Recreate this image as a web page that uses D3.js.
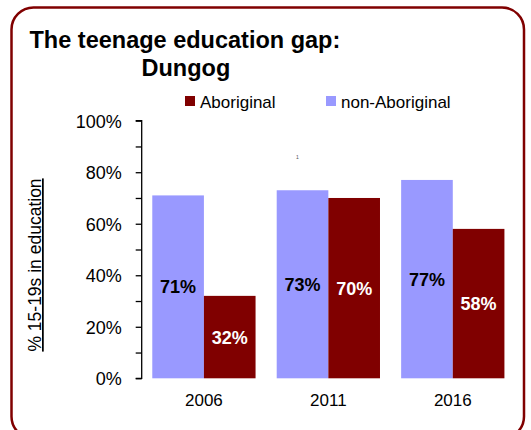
<!DOCTYPE html>
<html><head><meta charset="utf-8">
<script src="https://cdn.jsdelivr.net/npm/d3@7"></script>
<style>body{margin:0;background:#fff}svg{display:block}text{font-family:"Liberation Sans",Arial,sans-serif}</style>
</head><body>
<script>
const years = ["2006","2011","2016"];
const seriesNames = ["non-Aboriginal","Aboriginal"];
const nonAboriginal = [71,73,77];
const aboriginal = [32,70,58];
const yTickValues = [0,20,40,60,80,100];

const W=531,H=430;
const svg=d3.select("body").append("svg").attr("width",W).attr("height",H);
svg.append("rect").attr("x",11.5).attr("y",7.5).attr("width",512.5).attr("height",431)
  .attr("rx",22).attr("ry",22).attr("fill","#fff").attr("stroke","#800000").attr("stroke-width",2.5);

const colors={"non-Aboriginal":"#9999FF","Aboriginal":"#800000"};
const x=d3.scaleBand().domain(years).range([141.7,515]).paddingInner(0.17).paddingOuter(0.085);
const xs=d3.scaleBand().domain(seriesNames).range([0,x.bandwidth()]);
const y=d3.scaleLinear().domain([0,100]).range([378.3,120.7]);

const data=years.map((yr,i)=>({year:yr,vals:[{s:"non-Aboriginal",v:nonAboriginal[i]},{s:"Aboriginal",v:aboriginal[i]}]}));

const g=svg.append("g");
const grp=g.selectAll("g.grp").data(data).join("g").attr("transform",d=>`translate(${x(d.year)},0)`);
grp.selectAll("rect").data(d=>d.vals).join("rect")
  .attr("x",d=>xs(d.s)).attr("width",xs.bandwidth())
  .attr("y",d=>y(d.v)).attr("height",d=>y(0)-y(d.v))
  .attr("fill",d=>colors[d.s]);
grp.selectAll("text").data(d=>d.vals).join("text")
  .attr("x",d=>xs(d.s)+xs.bandwidth()/2)
  .attr("y",d=>y(d.v/2)+6.5)
  .attr("text-anchor","middle").attr("font-weight","bold").attr("font-size",18)
  .attr("fill",d=>d.s==="Aboriginal"?"#fff":"#000")
  .text(d=>d.v+"%");

// y axis
const yAxis=d3.axisLeft(y).tickValues(d3.range(0,101,10)).tickSize(6).tickFormat(d=>yTickValues.includes(d)?d+"%":"").tickPadding(14);
const ya=svg.append("g").attr("transform","translate(141.7,0)").call(yAxis);
ya.select(".domain").attr("d","M-6,120.7H0V378.3H-6").attr("stroke","#000").attr("stroke-width",1.3);
ya.selectAll(".tick line").attr("stroke","#000").attr("stroke-width",1.3);
ya.selectAll(".tick text").attr("font-size",18).attr("fill","#000").attr("font-family","Liberation Sans, Arial, sans-serif").attr("dy","0.36em");

// x axis labels
const xAxis=d3.axisBottom(x).tickSize(0).tickPadding(16);
const xa=svg.append("g").attr("transform","translate(0,378.3)").call(xAxis);
xa.select(".domain").remove();
xa.selectAll(".tick text").attr("font-size",17).attr("fill","#000").attr("font-family","Liberation Sans, Arial, sans-serif");

// y title
svg.append("text").attr("transform","translate(41,265) rotate(-90)")
  .attr("text-anchor","middle").attr("font-size",17.5).attr("fill","#000")
  .attr("text-decoration","underline").text("% 15-19s in education");

// title
svg.append("text").attr("x",29.5).attr("y",48).attr("font-size",23.5).attr("font-weight","bold").attr("fill","#000").text("The teenage education gap:");
svg.append("text").attr("x",141.5).attr("y",76).attr("font-size",23.5).attr("font-weight","bold").attr("fill","#000").text("Dungog");

// legend
const legendItems=[{s:"Aboriginal",x:185},{s:"non-Aboriginal",x:326}];
const lg=svg.selectAll("g.lg").data(legendItems).join("g").attr("transform",d=>`translate(${d.x},96)`);
lg.append("rect").attr("width",10).attr("height",10).attr("fill",d=>colors[d.s]);
lg.append("text").attr("x",15).attr("y",11.5).attr("font-size",17).attr("fill","#000").text(d=>d.s);

// small stray mark
svg.append("text").attr("x",297.3).attr("y",159).attr("font-size",5).attr("text-anchor","middle").attr("fill","#555").text("1");
</script>
</body></html>
